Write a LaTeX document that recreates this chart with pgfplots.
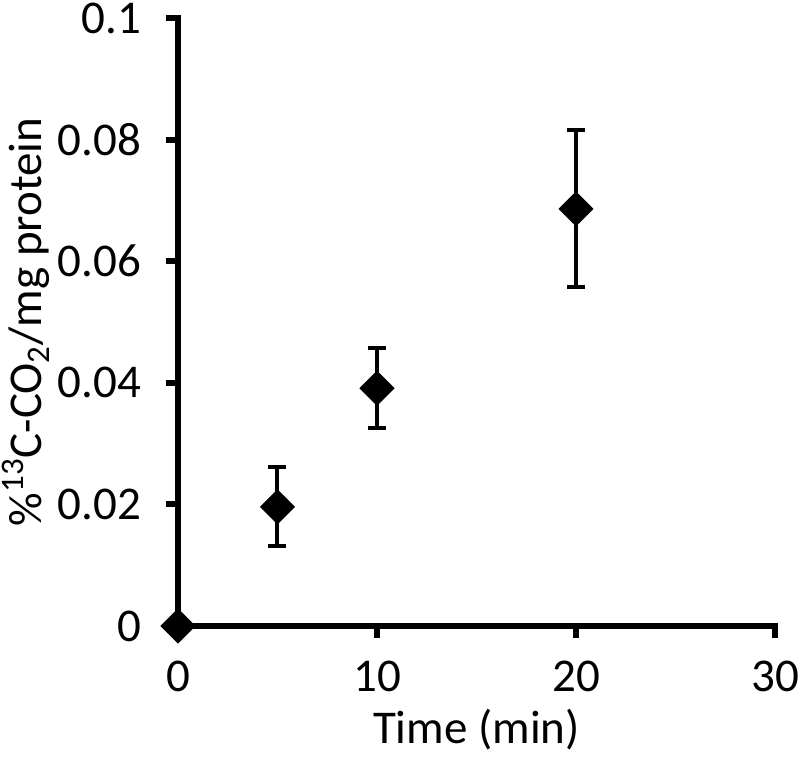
\documentclass[border=0pt]{standalone}
\usepackage{pgfplots}
\pgfplotsset{compat=1.18}
\usepackage{fontspec}
\setmainfont{Carlito}

\begin{document}
\begin{tikzpicture}
	\begin{axis}[
		name=ax,
		scale only axis,
		width=298.5pt, height=304pt,
		xmin=0, xmax=30,
		ymin=0, ymax=0.1,
		axis lines*=left,
		axis line style={line width=3pt, line cap=rect, -},
		xtick={0,10,20,30},
		ytick={0,0.02,0.04,0.06,0.08,0.1},
		tick align=outside,
		major tick length=6pt,
		tick style={line width=3pt, black},
		yticklabel style={
			/pgf/number format/fixed,
			/pgf/number format/precision=2,
		},
		/pgf/number format/assume math mode=true,
		ticklabel style={font=\fontsize{23.5}{28}\selectfont},
		xticklabel style={yshift=-8pt},
		yticklabel style={xshift=-9pt},
		label style={font=\fontsize{23.5}{28}\selectfont},
		xlabel={Time (min)},
		ylabel={\%\textsuperscript{13}C-CO\textsubscript{2}/mg protein},
		xlabel style={yshift=-2pt},
		ylabel style={yshift=-3pt},
		clip=false,
	]
		\addplot[
			only marks,
			mark=square*,
			mark size=6pt,
			mark options={rotate=45, fill=black, draw=black},
			error bars/.cd,
				y dir=both, y explicit,
				error bar style={line width=2pt, black},
				error mark options={rotate=90, line width=2pt, mark size=4.5pt, black},
		] coordinates {
			(0,0) +- (0,0)
			(5,0.0196) +- (0,0.0065)
			(10,0.0391) +- (0,0.0066)
			(20,0.0686) +- (0,0.0129)
		};
	\end{axis}
	% page size as in the reference, measured from the axis corner
	\pgfresetboundingbox
	\path[use as bounding box] ([shift={(-89pt,-67.5pt)}]ax.south west)
		rectangle ([shift={(311pt,313pt)}]ax.south west);
\end{tikzpicture}
\end{document}
